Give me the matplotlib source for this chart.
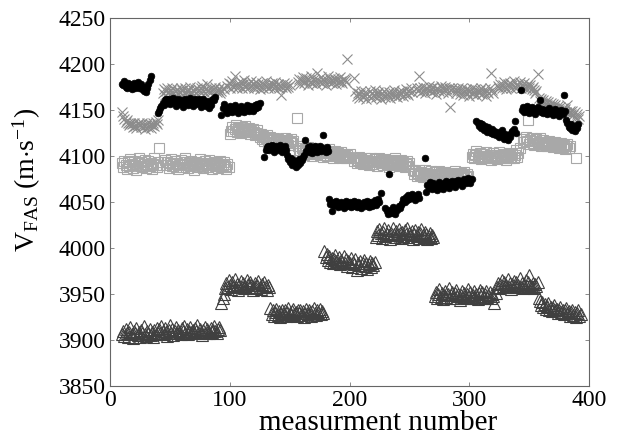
import numpy as np
import matplotlib
matplotlib.use("Agg")
import matplotlib.pyplot as plt

plt.rcParams["font.family"] = ["Liberation Serif", "DejaVu Serif"]
plt.rcParams["mathtext.fontset"] = "custom"
plt.rcParams["mathtext.rm"] = "Liberation Serif"
plt.rcParams["mathtext.it"] = "Liberation Serif:italic"

# each series: first measurement number of every block, then the block values (m/s)
dot_starts = [10, 40, 93, 129, 148, 163, 183, 230, 263, 306, 343, 381]
dot_blocks = [
    [4178, 4177, 4181, 4175, 4174, 4179, 4178, 4175, 4172, 4176, 4179, 4174, 4176,
     4180, 4173, 4175, 4178, 4172, 4170, 4175, 4169, 4173, 4178, 4182, 4186],
    [4146, 4149, 4152, 4154, 4157, 4155, 4160, 4161, 4157, 4162, 4156, 4159, 4161,
     4163, 4157, 4154, 4159, 4162, 4156, 4160, 4158, 4153, 4159, 4162, 4160, 4155,
     4158, 4163, 4159, 4154, 4158, 4161, 4156, 4159, 4162, 4157, 4153, 4156, 4161,
     4158, 4154, 4159, 4156, 4152, 4155, 4160, 4162, 4160, 4164],
    [4144, 4152, 4156, 4153, 4149, 4146, 4151, 4154, 4149, 4147, 4152, 4155, 4151,
     4149, 4146, 4152, 4154, 4149, 4151, 4147, 4152, 4155, 4150, 4149, 4154, 4152,
     4148, 4151, 4155, 4152, 4156, 4153, 4157],
    [4099, 4106, 4109, 4111, 4106, 4110, 4112, 4107, 4104, 4109, 4111, 4106, 4108,
     4112, 4109, 4104, 4108, 4111, 4106],
    [4101, 4096, 4093, 4097, 4090, 4095, 4092, 4088, 4094, 4090, 4096, 4092, 4095,
     4099, 4101],
    [4117, 4105, 4109, 4104, 4110, 4107, 4103, 4106, 4111, 4108, 4104, 4107, 4110,
     4105, 4108, 4122, 4107, 4104, 4109, 4105],
    [4053, 4048, 4040, 4046, 4050, 4047, 4051, 4044, 4048, 4045, 4050, 4047, 4043,
     4048, 4051, 4045, 4047, 4050, 4044, 4048, 4045, 4051, 4047, 4044, 4050, 4045,
     4048, 4043, 4047, 4050, 4045, 4048, 4051, 4044, 4047, 4050, 4045, 4048, 4052,
     4047, 4049, 4053, 4050, 4059],
    [4043, 4040, 4037, 4080, 4041, 4038, 4044, 4040, 4037, 4042, 4041, 4045, 4043,
     4047, 4049, 4053, 4050, 4055, 4052, 4057, 4053, 4055, 4058, 4054, 4056, 4052,
     4055, 4058, 4054],
    [4097, 4061, 4068, 4065, 4071, 4067, 4064, 4070, 4066, 4068, 4063, 4067, 4071,
     4065, 4068, 4064, 4070, 4067, 4072, 4068, 4065, 4071, 4068, 4073, 4069, 4066,
     4072, 4069, 4074, 4070, 4072, 4067, 4071, 4075, 4070, 4072, 4076, 4073, 4070, 4075],
    [4138, 4135, 4132, 4136, 4130, 4134, 4128, 4132, 4130, 4126, 4131, 4127, 4125,
     4129, 4124, 4127, 4122, 4126, 4124, 4120, 4124, 4128, 4121, 4118, 4123, 4120,
     4117, 4122, 4120, 4125, 4127, 4129, 4138, 4125],
    [4171, 4150, 4153, 4147, 4151, 4154, 4148, 4146, 4150, 4153, 4147, 4151, 4145,
     4149, 4153, 4150, 4160, 4147, 4151, 4146, 4150, 4149, 4145, 4148, 4152, 4146,
     4149, 4144, 4148, 4151, 4145, 4148, 4143, 4147, 4150, 4145, 4166, 4148],
    [4139, 4135, 4131, 4130, 4134, 4128, 4131, 4127, 4132, 4130, 4134],
]

cross_starts = [10, 44, 98, 157, 204, 256, 288, 324, 358]
cross_blocks = [
    [4147, 4143, 4140, 4137, 4139, 4135, 4133, 4136, 4134, 4131, 4135, 4132, 4130,
     4134, 4136, 4133, 4131, 4135, 4132, 4129, 4133, 4136, 4131, 4134, 4130, 4133,
     4135, 4132, 4137, 4134, 4139],
    [4168, 4172, 4166, 4170, 4174, 4169, 4167, 4171, 4173, 4168, 4165, 4170, 4172,
     4167, 4169, 4174, 4171, 4166, 4168, 4173, 4170, 4167, 4171, 4175, 4169, 4166,
     4170, 4172, 4168, 4174, 4171, 4169, 4173, 4176, 4170, 4168, 4172, 4178, 4171,
     4169, 4174, 4170, 4167, 4172, 4175, 4169, 4171, 4173, 4168, 4170, 4174, 4172],
    [4176, 4179, 4174, 4178, 4181, 4175, 4187, 4177, 4173, 4179, 4176, 4180, 4174,
     4178, 4182, 4175, 4177, 4173, 4179, 4176, 4181, 4178, 4174, 4177, 4180, 4175,
     4178, 4172, 4176, 4179, 4174, 4177, 4181, 4176, 4173, 4178, 4175, 4179, 4177,
     4174, 4180, 4176, 4178, 4173, 4177, 4166, 4175, 4179, 4176, 4174, 4178, 4175, 4177],
    [4180, 4183, 4178, 4182, 4185, 4179, 4181, 4184, 4177, 4182, 4180, 4186, 4179,
     4183, 4181, 4178, 4190, 4182, 4180, 4185, 4179, 4183, 4181, 4177, 4182, 4186,
     4180, 4183, 4179, 4181, 4184, 4182, 4178, 4183, 4180, 4185, 4181, 4179, 4183,
     4182, 4180, 4205],
    [4184, 4170, 4165, 4168, 4163, 4167, 4170, 4164, 4166, 4169, 4162, 4167, 4165,
     4170, 4163, 4168, 4166, 4171, 4164, 4167, 4169, 4165, 4162, 4168, 4166, 4170,
     4164, 4167, 4165, 4169, 4163, 4166, 4168, 4171, 4165, 4167, 4164, 4169, 4166,
     4168, 4170, 4165, 4167, 4172, 4168, 4166, 4170, 4173, 4169],
    [4174, 4170, 4186, 4173, 4169, 4175, 4171, 4168, 4174, 4172, 4176, 4170, 4173,
     4169, 4175, 4171, 4167, 4174, 4172, 4170, 4176, 4173, 4169, 4171, 4175, 4172,
     4168, 4174, 4153, 4171, 4173],
    [4172, 4168, 4171, 4174, 4167, 4170, 4173, 4166, 4169, 4172, 4168, 4171, 4165,
     4170, 4173, 4167, 4169, 4172, 4166, 4170, 4168, 4171, 4174, 4167, 4169, 4172,
     4165, 4170, 4168, 4173, 4190, 4171, 4168],
    [4176, 4173, 4178, 4174, 4177, 4180, 4175, 4172, 4178, 4176, 4179, 4174, 4177,
     4181, 4175, 4173, 4178, 4176, 4180, 4174, 4177, 4175, 4179, 4173, 4176, 4178,
     4174, 4177, 4172, 4175, 4171, 4168, 4170, 4189],
    [4163, 4159, 4161, 4157, 4160, 4156, 4159, 4155, 4158, 4154, 4157, 4153, 4156,
     4152, 4155, 4151, 4154, 4150, 4153, 4149, 4152, 4148, 4151, 4147, 4155, 4146,
     4149, 4145, 4148, 4144, 4147, 4142, 4145, 4140, 4143],
]

square_starts = [10, 46, 100, 156, 203, 253, 302, 345, 389]
square_blocks = [
    [4092, 4088, 4094, 4090, 4086, 4093, 4089, 4096, 4091, 4087, 4094, 4090, 4085,
     4092, 4097, 4089, 4093, 4088, 4091, 4095, 4087, 4090, 4094, 4089, 4092, 4086,
     4091, 4098, 4090, 4088, 4093, 4108, 4090],
    [4095, 4090, 4093, 4087, 4092, 4096, 4089, 4091, 4094, 4088, 4092, 4086, 4090,
     4095, 4091, 4088, 4093, 4097, 4090, 4087, 4092, 4089, 4094, 4091, 4085, 4090,
     4093, 4088, 4092, 4096, 4089, 4091, 4087, 4094, 4090, 4092, 4088, 4095, 4091,
     4086, 4090, 4093, 4089, 4092, 4087, 4091, 4094, 4088, 4090, 4093, 4089, 4086,
     4091, 4088],
    [4124, 4127, 4131, 4127, 4129, 4133, 4126, 4130, 4128, 4125, 4131, 4127, 4129,
     4132, 4126, 4128, 4130, 4124, 4127, 4129, 4126, 4122, 4125, 4128, 4123, 4120,
     4124, 4118, 4121, 4116, 4119, 4122, 4115, 4118, 4120, 4114, 4117, 4119, 4113,
     4116, 4118, 4112, 4115, 4117, 4113, 4116, 4119, 4114, 4117, 4112, 4115, 4118,
     4114, 4116],
    [4141, 4110, 4106, 4103, 4108, 4105, 4101, 4107, 4104, 4109, 4102, 4106, 4103,
     4100, 4105, 4108, 4102, 4104, 4107, 4101, 4105, 4103, 4099, 4106, 4104, 4100,
     4103, 4107, 4101, 4104, 4098, 4102, 4105, 4100, 4103, 4099, 4101, 4104, 4098,
     4102, 4100, 4097, 4101, 4099, 4102],
    [4098, 4094, 4097, 4092, 4095, 4099, 4093, 4096, 4091, 4094, 4098, 4092, 4095,
     4090, 4093, 4097, 4094, 4091, 4096, 4093, 4089, 4094, 4097, 4092, 4095, 4090,
     4093, 4096, 4091, 4094, 4088, 4092, 4095, 4090, 4093, 4097, 4091, 4094, 4089,
     4092, 4095, 4090, 4093, 4088, 4091, 4094, 4089, 4092],
    [4084, 4080, 4083, 4078, 4081, 4085, 4079, 4082, 4077, 4080, 4084, 4078, 4081,
     4076, 4079, 4083, 4080, 4077, 4082, 4079, 4075, 4080, 4083, 4078, 4081, 4076,
     4079, 4082, 4077, 4080, 4074, 4078, 4081, 4076, 4079, 4083, 4077, 4080, 4075,
     4078, 4081, 4076, 4079, 4082, 4077, 4080, 4078],
    [4099, 4102, 4098, 4101, 4105, 4097, 4100, 4103, 4096, 4099, 4102, 4098, 4104,
     4100, 4097, 4101, 4095, 4099, 4103, 4098, 4101, 4096, 4100, 4104, 4097, 4099,
     4102, 4098, 4101, 4095, 4100, 4103, 4097, 4099, 4102, 4098, 4101, 4106, 4099,
     4103, 4108],
    [4115, 4118, 4120, 4116, 4139, 4113, 4117, 4119, 4114, 4112, 4116, 4118, 4113,
     4115, 4119, 4111, 4114, 4117, 4112, 4115, 4110, 4113, 4116, 4111, 4114, 4109,
     4112, 4115, 4110, 4113, 4108, 4111, 4114, 4109, 4112, 4107, 4110, 4113, 4108, 4111],
    [4097],
]

triangle_starts = [10, 41, 93, 134, 179, 222, 271, 323, 358]
triangle_blocks = [
    [3906, 3910, 3904, 3912, 3908, 3903, 3909, 3914, 3906, 3902, 3910, 3907, 3913,
     3905, 3909, 3903, 3911, 3907, 3915, 3906, 3904, 3910, 3908, 3912, 3905, 3909,
     3903, 3911, 3906, 3913, 3908],
    [3912, 3908, 3915, 3910, 3906, 3913, 3909, 3904, 3911, 3916, 3908, 3912, 3905,
     3910, 3914, 3907, 3911, 3909, 3906, 3913, 3910, 3915, 3908, 3912, 3906, 3910,
     3914, 3909, 3911, 3907, 3913, 3910, 3916, 3908, 3912, 3909, 3905, 3911, 3914,
     3908, 3912, 3910, 3907, 3913, 3909, 3911, 3915, 3910, 3908, 3912, 3914, 3911],
    [3940, 3945, 3950, 3956, 3962, 3958, 3965, 3960, 3955, 3963, 3959, 3966, 3957,
     3961, 3954, 3960, 3964, 3958, 3962, 3956, 3959, 3965, 3961, 3957, 3963, 3960,
     3954, 3958, 3962, 3956, 3960, 3964, 3958, 3955, 3961, 3957, 3963, 3959, 3954,
     3960, 3957],
    [3935, 3928, 3932, 3926, 3930, 3934, 3927, 3931, 3925, 3929, 3933, 3928, 3932,
     3926, 3930, 3935, 3929, 3927, 3931, 3934, 3928, 3930, 3926, 3932, 3929, 3933,
     3927, 3931, 3925, 3929, 3934, 3928, 3932, 3930, 3926, 3931, 3935, 3929, 3927,
     3932, 3930, 3934, 3928, 3931, 3929],
    [3996, 3990, 3993, 3987, 3991, 3985, 3989, 3983, 3988, 3992, 3986, 3984, 3990,
     3982, 3987, 3985, 3991, 3983, 3988, 3980, 3986, 3984, 3989, 3979, 3985, 3982,
     3988, 3976, 3984, 3981, 3986, 3978, 3983, 3987, 3980, 3984, 3977, 3982, 3986,
     3979, 3983, 3981, 3985],
    [4012, 4018, 4014, 4020, 4016, 4011, 4017, 4021, 4013, 4015, 4019, 4014, 4010,
     4016, 4022, 4015, 4012, 4018, 4014, 4020, 4016, 4011, 4017, 4013, 4019, 4015,
     4021, 4012, 4016, 4014, 4018, 4010, 4015, 4019, 4013, 4017, 4011, 4016, 4020,
     4014, 4012, 4017, 4015, 4010, 4013, 4016, 4011, 4014, 4012],
    [3948, 3952, 3946, 3950, 3955, 3947, 3951, 3944, 3949, 3953, 3947, 3950, 3956,
     3945, 3949, 3952, 3946, 3951, 3954, 3948, 3950, 3943, 3949, 3953, 3947, 3951,
     3945, 3950, 3955, 3948, 3952, 3946, 3949, 3953, 3947, 3950, 3944, 3951, 3954,
     3948, 3952, 3946, 3950, 3953, 3947, 3949, 3952, 3945, 3950, 3948, 3940, 3951],
    [3958, 3962, 3956, 3961, 3965, 3959, 3963, 3957, 3960, 3966, 3958, 3962, 3955,
     3961, 3964, 3959, 3963, 3957, 3960, 3967, 3958, 3962, 3956, 3961, 3965, 3959,
     3963, 3970, 3960, 3958, 3962, 3956, 3961, 3959, 3963],
    [3945, 3942, 3938, 3941, 3936, 3939, 3934, 3937, 3940, 3933, 3936, 3931, 3935,
     3938, 3932, 3934, 3929, 3933, 3936, 3930, 3933, 3928, 3932, 3935, 3929, 3931,
     3926, 3930, 3933, 3927, 3930, 3925, 3929, 3932, 3926, 3928],
]

x_ticks = [0, 100, 200, 300, 400]
y_ticks = [3850, 3900, 3950, 4000, 4050, 4100, 4150, 4200, 4250]


def flatten(starts, blocks):
    xs, ys = [], []
    for s, vals in zip(starts, blocks):
        xs.extend(s + i for i in range(len(vals)))
        ys.extend(vals)
    return np.array(xs), np.array(ys)


fig = plt.figure(figsize=(6.2, 4.38), dpi=100)
ax = fig.add_axes([110 / 620, 52 / 438, 479 / 620, 368.5 / 438])

x, y = flatten(dot_starts, dot_blocks)
ax.plot(x, y, "o", color="black", ms=4.8, mew=0.5, zorder=3)

x, y = flatten(cross_starts, cross_blocks)
ax.plot(x, y, "x", color="#8c8c8c", ms=7, mew=0.8, zorder=2)

x, y = flatten(square_starts, square_blocks)
ax.plot(x, y, "s", mfc="none", mec="#a8a8a8", ms=6.5, mew=0.8, zorder=2)

x, y = flatten(triangle_starts, triangle_blocks)
ax.plot(x, y, "^", mfc="none", mec="#404040", ms=8.5, mew=0.8, zorder=2)

ax.set_xlim(0, 400)
ax.set_ylim(3850, 4250)
ax.set_xticks(x_ticks)
ax.set_yticks(y_ticks)
ax.tick_params(direction="in", length=3, width=0.6, color="#777777",
               top=True, right=True, labelsize=17, pad=3)
for sp in ax.spines.values():
    sp.set_color("#666666")
    sp.set_linewidth(0.8)

ax.set_xlabel("measurment number", fontsize=21)
ax.set_ylabel(r"$\mathrm{V}_{\mathrm{FAS}}\ (\mathrm{m{\cdot}s}^{-1})$", fontsize=20)
ax.xaxis.set_label_coords(0.56, -0.065)
ax.yaxis.set_label_coords(-0.14, 0.56)

fig.savefig("out.png", dpi=100)
